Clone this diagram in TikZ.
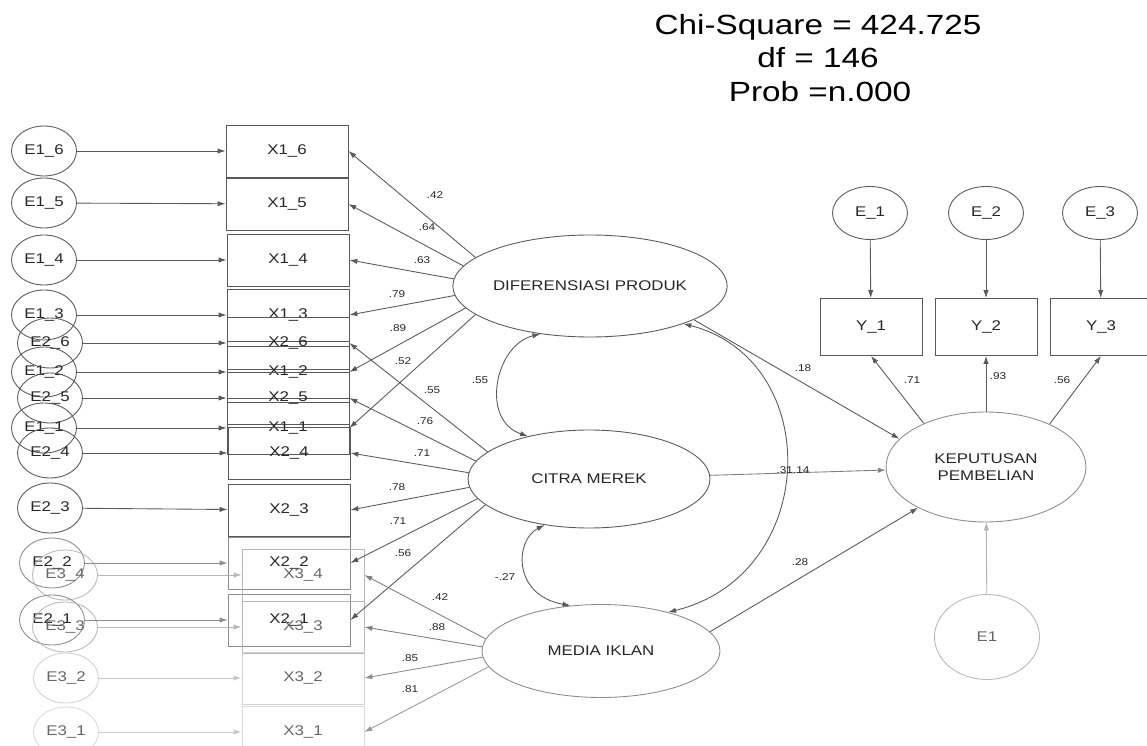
\documentclass[tikz,border=0pt]{standalone}
\usepackage{fontspec}
\newfontfamily\amosfont{Liberation Sans}[FakeStretch=1.2]
\usetikzlibrary{shapes.geometric,arrows.meta}

\begin{document}
\begin{tikzpicture}[x=0.02cm, y=-0.02cm, auto,
    >={Latex[length=4.5pt,width=3pt]}, line width=0.5pt,
    color=black!65, text=black!85, font=\amosfont\fontsize{8}{10}\selectfont,
    errorterm/.style ={ellipse, draw, inner sep=0pt, minimum width=1.3cm, minimum height=1cm},
    indicator/.style ={rectangle, draw, inner sep=0pt, minimum width=2.44cm, minimum height=1.04cm},
    construct/.style ={ellipse, draw, inner sep=0pt},
    loading/.style ={inner sep=0pt, font=\amosfont\fontsize{5.6}{6}\selectfont},
    faint/.style ={draw=black!28, text=black!60}]
   \useasboundingbox (0,0) rectangle (1147,746);

   \node[anchor=base, text=black, font=\amosfont\fontsize{15.8}{18}\selectfont] (chi)  at (818,35)  {Chi-Square = 424.725};
   \node[anchor=base, text=black, font=\amosfont\fontsize{15.8}{18}\selectfont] (df)  at (818,68)  {df = 146};
   \node[anchor=base, text=black, font=\amosfont\fontsize{15.8}{18}\selectfont] (prob)  at (820,102)  {Prob =n.000};

   \node[errorterm] (e16)  at (44,151)  {E1\_6};
   \node[errorterm] (e15)  at (44,203)  {E1\_5};
   \node[errorterm] (e14)  at (44,260)  {E1\_4};
   \node[errorterm] (e13)  at (44,315)  {E1\_3};
   \node[errorterm] (e26)  at (50,343)  {E2\_6};
   \node[errorterm] (e12)  at (44,372)  {E1\_2};
   \node[errorterm] (e25)  at (50,398)  {E2\_5};
   \node[errorterm] (e11)  at (44,428)  {E1\_1};
   \node[errorterm] (e24)  at (50,453)  {E2\_4};
   \node[errorterm] (e23)  at (50,508)  {E2\_3};
   \node[errorterm, draw=black!45] (e22)  at (52,563)  {E2\_2};
   \node[errorterm, faint] (e34)  at (65,575)  {E3\_4};
   \node[errorterm, draw=black!45] (e21)  at (52,620)  {E2\_1};
   \node[errorterm, faint] (e33)  at (65,627)  {E3\_3};
   \node[errorterm, faint, draw=black!18] (e32)  at (66,678)  {E3\_2};
   \node[errorterm, faint, draw=black!15] (e31)  at (66,732)  {E3\_1};

   \node[indicator] (x16)  at (287,151)  {X1\_6};
   \node[indicator] (x15)  at (287,204)  {X1\_5};
   \node[indicator] (x14)  at (288,260)  {X1\_4};
   \node[indicator] (x13)  at (288,315)  {X1\_3};
   \node[indicator] (x26)  at (288,343)  {X2\_6};
   \node[indicator] (x12)  at (288,372)  {X1\_2};
   \node[indicator] (x25)  at (288,398)  {X2\_5};
   \node[indicator] (x11)  at (288,428)  {X1\_1};
   \node[indicator] (x24)  at (289,453)  {X2\_4};
   \node[indicator] (x23)  at (289,510)  {X2\_3};
   \node[indicator, draw=black!45] (x22)  at (289,563)  {X2\_2};
   \node[indicator, draw=black!45] (x21)  at (289,620)  {X2\_1};
   \node[indicator, faint] (x34)  at (303,575)  {X3\_4};
   \node[indicator, faint] (x33)  at (303,627)  {X3\_3};
   \node[indicator, faint, draw=black!18] (x32)  at (303,678)  {X3\_2};
   \node[indicator, faint, draw=black!15] (x31)  at (303,732)  {X3\_1};

   \node[construct, minimum width=4.9cm, minimum height=2.04cm] (dif)  at (590,286)  {DIFERENSIASI PRODUK};
   \node[construct, minimum width=4.84cm, minimum height=1.96cm] (cm)  at (589,479)  {CITRA MEREK};
   \node[construct, minimum width=4.76cm, minimum height=1.86cm, draw=black!45] (mi)  at (601,651)  {MEDIA IKLAN};
   \node[construct, minimum width=4cm, minimum height=2.2cm, draw=black!45, align=center] (kp)  at (986,467)  {KEPUTUSAN\\PEMBELIAN};

   \node[errorterm, minimum width=1.5cm, minimum height=1.06cm] (ey1)  at (870,213)  {E\_1};
   \node[errorterm, minimum width=1.5cm, minimum height=1.06cm] (ey2)  at (986,213)  {E\_2};
   \node[errorterm, minimum width=1.5cm, minimum height=1.06cm] (ey3)  at (1100,213)  {E\_3};
   \node[indicator, minimum width=2.04cm, minimum height=1.14cm] (y1)  at (871,327)  {Y\_1};
   \node[indicator, minimum width=2.04cm, minimum height=1.14cm] (y2)  at (986,327)  {Y\_2};
   \node[indicator, minimum width=2.04cm, minimum height=1.14cm] (y3)  at (1101,327)  {Y\_3};
   \node[errorterm, faint, minimum width=2.1cm, minimum height=1.7cm] (ek)  at (987,637)  {E1};

   \draw[->] (e16) to (x16);
   \draw[->] (e15) to (x15);
   \draw[->] (e14) to (x14);
   \draw[->] (e13) to (x13);
   \draw[->] (e26) to (x26);
   \draw[->] (e12) to (x12);
   \draw[->] (e25) to (x25);
   \draw[->] (e11) to (x11);
   \draw[->] (e24) to (x24);
   \draw[->] (e23) to (x23);
   \draw[->, black!45] (e22) to (x22);
   \draw[->, black!45] (e21) to (x21);
   \draw[->, black!28] (e34) to (x34);
   \draw[->, black!28] (e33) to (x33);
   \draw[->, black!22] (e32) to (x32);
   \draw[->, black!22] (e31) to (x31);

   \draw[->] (dif.166) to (x16.east);
   \draw[->] (dif.171) to (x15.east);
   \draw[->] (dif.177) to (x14.east);
   \draw[->] (dif.184) to (x13.east);
   \draw[->] (dif.190) to (x12.east);
   \draw[->] (dif.194) to (x11.east);
   \draw[->] (cm.165) to (x26.east);
   \draw[->] (cm.171) to (x25.east);
   \draw[->] (cm.177) to (x24.east);
   \draw[->] (cm.184) to (x23.east);
   \draw[->] (cm.190) to (x22.east);
   \draw[->] (cm.194) to (x21.east);
   \draw[->, black!50] (mi.174) to (x34.east);
   \draw[->, black!50] (mi.178) to (x33.east);
   \draw[->, black!45] (mi.183) to (x32.east);
   \draw[->, black!40] (mi.188) to (x31.east);

   \draw[<->] (dif.224) .. controls (495,345) and (480,420) .. (cm.145);
   \draw[<->] (cm.226) .. controls (515,540) and (512,595) .. (mi.124);
   \draw[<->] (dif.338) .. controls (825,360) and (820,575) .. (mi.30);

   \draw[->] (dif.342) to (kp.162);
   \draw[->, black!50] (cm) to (kp);
   \draw[->] (mi.10) to (kp.211);
   \draw[->] (kp.145) to (y1.south);
   \draw[->] (kp.north) to (y2.south);
   \draw[->] (kp.34) to (y3.south);
   \draw[->] (ey1) to (y1);
   \draw[->] (ey2) to (y2);
   \draw[->] (ey3) to (y3);
   \draw[->, black!30] (ek) to (kp);

   \node[loading] (l16)  at (435,195)  {.42};
   \node[loading] (l15)  at (427,227)  {.64};
   \node[loading] (l14)  at (422,260)  {.63};
   \node[loading] (l13)  at (397,294)  {.79};
   \node[loading] (l12)  at (398,328)  {.89};
   \node[loading] (l11)  at (403,361)  {.52};
   \node[loading] (l26)  at (432,390)  {.55};
   \node[loading] (l25)  at (425,421)  {.76};
   \node[loading] (l24)  at (422,453)  {.71};
   \node[loading] (l23)  at (397,487)  {.78};
   \node[loading] (l22)  at (398,521)  {.71};
   \node[loading] (l21)  at (403,553)  {.56};
   \node[loading] (l34)  at (440,597)  {.42};
   \node[loading] (l33)  at (437,627)  {.88};
   \node[loading] (l32)  at (410,658)  {.85};
   \node[loading] (l31)  at (410,689)  {.81};
   \node[loading] (r1)  at (480,380)  {.55};
   \node[loading] (r2)  at (505,577)  {-.27};
   \node[loading] (b1)  at (803,368)  {.18};
   \node[loading] (b2)  at (793,470)  {.31.14};
   \node[loading] (b3)  at (800,562)  {.28};
   \node[loading] (k1)  at (912,380)  {.71};
   \node[loading] (k2)  at (998,376)  {.93};
   \node[loading] (k3)  at (1062,380)  {.56};
 \end{tikzpicture}
\end{document}
